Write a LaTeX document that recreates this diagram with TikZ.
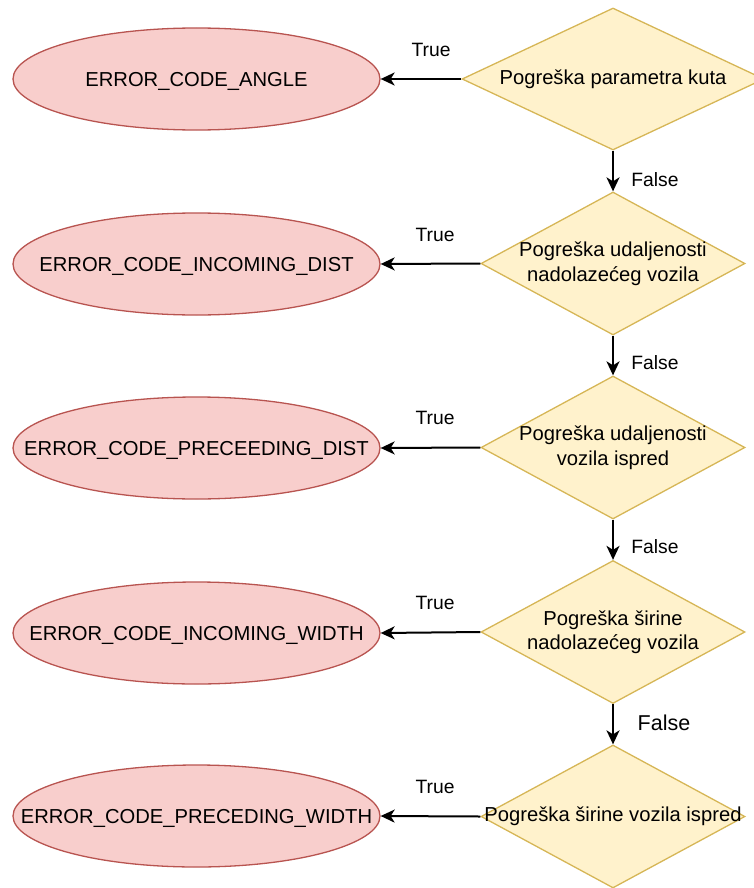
\documentclass[tikz,border=0pt]{standalone}
\usepackage{fontspec}
\setmainfont{Liberation Sans}
\usetikzlibrary{shapes.geometric,arrows.meta}
\definecolor{errfill}{HTML}{F8CECC}
\definecolor{errdraw}{HTML}{B85450}
\definecolor{decfill}{HTML}{FFF2CC}
\definecolor{decdraw}{HTML}{D6B656}
\tikzset{
  errbox/.style={ellipse, draw=errdraw, fill=errfill, line width=1.3pt, minimum width=367pt, minimum height=102pt, inner sep=0pt},
  decbox/.style={diamond, draw=decdraw, fill=decfill, line width=1.3pt, minimum width=264pt, minimum height=143pt, inner sep=0pt},
  txt/.style={font=\fontsize{20.2}{24.5}\selectfont, align=center, inner sep=0pt},
  etxt/.style={txt, text depth=0pt, text height=14.5pt},
  lbl/.style={font=\fontsize{19.3}{22}\selectfont, inner sep=0pt},
  conn/.style={-{Stealth[length=14pt,width=13pt,inset=4pt]}, line width=2pt, black}
}
\begin{document}
\begin{tikzpicture}[x=1pt,y=-1pt]
\useasboundingbox (0,0) rectangle (753,888);
% error ellipses
\node[errbox] (e1) at (196.5,79) {};
\node[errbox] (e2) at (196.5,264) {};
\node[errbox] (e3) at (196.5,448) {};
\node[errbox] (e4) at (196.5,633) {};
\node[errbox] (e5) at (196.5,816) {};
\node[etxt] (te1) at (e1) {ERROR\_CODE\_ANGLE};
\node[etxt] (te2) at (e2) {ERROR\_CODE\_INCOMING\_DIST};
\node[etxt] (te3) at (e3) {ERROR\_CODE\_PRECEEDING\_DIST};
\node[etxt] (te4) at (e4) {ERROR\_CODE\_INCOMING\_WIDTH};
\node[etxt] (te5) at (e5) {ERROR\_CODE\_PRECEDING\_WIDTH};
% decision diamonds
\node[decbox, minimum width=302pt, minimum height=142pt] (d1) at (613,79) {};
\node[decbox] (d2) at (613,263.5) {};
\node[decbox] (d3) at (613,447.5) {};
\node[decbox] (d4) at (613,632) {};
\node[decbox] (d5) at (613,816.5) {};
\node[txt] (td1) at (d1) {Pogreška parametra kuta};
\node[txt] (td2) at (d2) {Pogreška udaljenosti\\nadolazećeg vozila};
\node[txt] (td3) at (d3) {Pogreška udaljenosti\\vozila ispred};
\node[txt] (td4) at (d4) {Pogreška širine\\nadolazećeg vozila};
\node[txt] (td5) at (d5) {Pogreška širine vozila ispred};
% True connectors
\draw[conn] (d1.west) -- (e1.east);
\draw[conn] (d2.west) -- (e2.east);
\draw[conn] (d3.west) -- (e3.east);
\draw[conn] (d4.west) -- (e4.east);
\draw[conn] (d5.west) -- (e5.east);
% False connectors
\draw[conn] (d1.south) -- (d2.north);
\draw[conn] (d2.south) -- (d3.north);
\draw[conn] (d3.south) -- (d4.north);
\draw[conn] (d4.south) -- (d5.north);
% labels
\node[lbl] (lt1) at (431,50) {True};
\node[lbl] (lt2) at (435,235) {True};
\node[lbl] (lt3) at (435,418) {True};
\node[lbl] (lt4) at (435,603) {True};
\node[lbl] (lt5) at (435,787) {True};
\node[lbl] (lf1) at (655,180) {False};
\node[lbl] (lf2) at (655,363) {False};
\node[lbl] (lf3) at (655,547) {False};
\node[lbl, font=\fontsize{21.5}{24}\selectfont] (lf4) at (664,723) {False};
\end{tikzpicture}
\end{document}
